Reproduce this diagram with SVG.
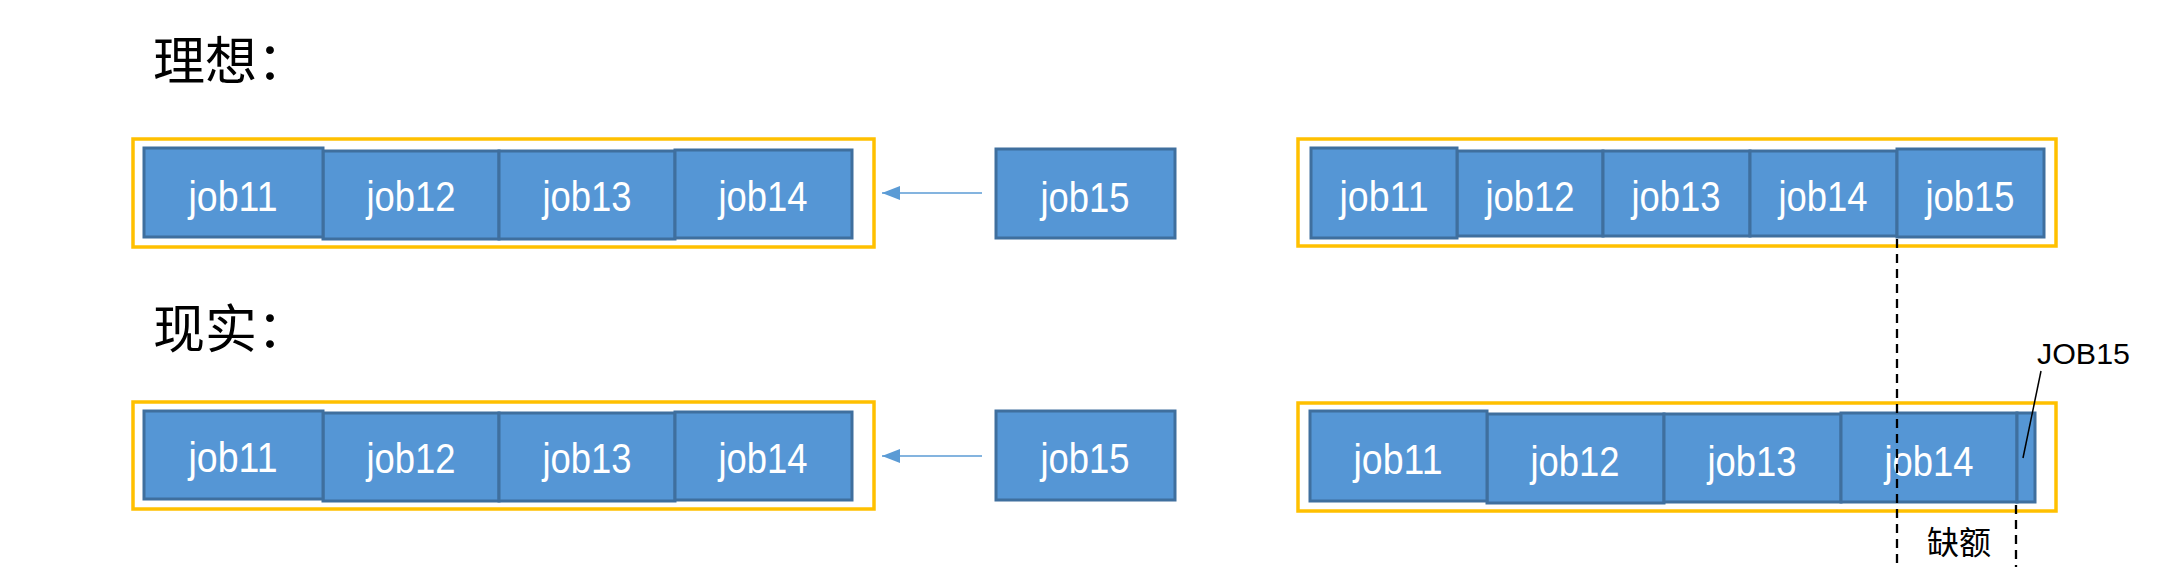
<svg xmlns="http://www.w3.org/2000/svg" width="2161" height="582" viewBox="0 0 2161 582">
<style>
.bg{fill:#ffffff}
.frame{fill:none;stroke:#FFC000;stroke-width:3.5}
.job{fill:#5596D5;stroke:#3F6F9E;stroke-width:3}
.lbl{font-family:"Liberation Sans",Arial,sans-serif;font-size:43px;fill:#ffffff;text-anchor:middle}
.title{font-family:"Noto Sans CJK SC",sans-serif;font-size:52px;fill:#000000}
.note{font-family:"Noto Sans CJK SC",sans-serif;font-size:32px;fill:#000000}
.note2{font-family:"Liberation Sans",Arial,sans-serif;font-size:30px;fill:#000000}
.arrow{stroke:#5B9BD5;stroke-width:1.6;fill:none}
.dash{stroke:#000000;stroke-width:2.3;stroke-dasharray:9 6;fill:none}
.leader{stroke:#000000;stroke-width:1.5;fill:none}
</style>
<defs>
<marker id="ah" viewBox="0 0 18 14" refX="18" refY="7" markerWidth="18" markerHeight="14" markerUnits="userSpaceOnUse" orient="auto">
<path d="M0,0 L18,7 L0,14 Z" fill="#5B9BD5"/>
</marker>
</defs>
<rect class="bg" x="0" y="0" width="2161" height="582"/>

<text id="title-ideal" class="title" x="153" y="80">理想：</text>
<text id="title-real" class="title" x="153" y="348">现实：</text>

<!-- top-left queue -->
<g id="queue-ideal-left">
<rect class="frame" x="133" y="139" width="741" height="108"/>
</g>
<g id="tl-job12"><rect class="job" x="323" y="151" width="176" height="88"/><text class="lbl" x="411" y="211" textLength="89" lengthAdjust="spacingAndGlyphs">job12</text></g>
<g id="tl-job13"><rect class="job" x="499" y="151" width="176" height="88"/><text class="lbl" x="587" y="211" textLength="89" lengthAdjust="spacingAndGlyphs">job13</text></g>
<g id="tl-job14"><rect class="job" x="675" y="150" width="177" height="88"/><text class="lbl" x="763" y="211" textLength="89" lengthAdjust="spacingAndGlyphs">job14</text></g>
<g id="tl-job11"><rect class="job" x="144" y="148" width="179" height="89"/><text class="lbl" x="233" y="211" textLength="89" lengthAdjust="spacingAndGlyphs">job11</text></g>
<g id="tm-job15"><rect class="job" x="996" y="149" width="179" height="89"/><text class="lbl" x="1085" y="212" textLength="89" lengthAdjust="spacingAndGlyphs">job15</text></g>

<!-- top-right queue -->
<g id="queue-ideal-right">
<rect class="frame" x="1298" y="139" width="758" height="107"/>
</g>
<g id="tr-job12"><rect class="job" x="1457" y="151" width="146" height="85"/><text class="lbl" x="1530" y="211" textLength="89" lengthAdjust="spacingAndGlyphs">job12</text></g>
<g id="tr-job13"><rect class="job" x="1603" y="151" width="147" height="85"/><text class="lbl" x="1676" y="211" textLength="89" lengthAdjust="spacingAndGlyphs">job13</text></g>
<g id="tr-job14"><rect class="job" x="1750" y="151" width="147" height="85"/><text class="lbl" x="1823" y="211" textLength="89" lengthAdjust="spacingAndGlyphs">job14</text></g>
<g id="tr-job15"><rect class="job" x="1897" y="149" width="147" height="88"/><text class="lbl" x="1970" y="211" textLength="89" lengthAdjust="spacingAndGlyphs">job15</text></g>
<g id="tr-job11"><rect class="job" x="1311" y="148" width="146" height="90"/><text class="lbl" x="1384" y="211" textLength="89" lengthAdjust="spacingAndGlyphs">job11</text></g>

<!-- bottom-left queue -->
<g id="queue-real-left">
<rect class="frame" x="133" y="402" width="741" height="107"/>
</g>
<g id="bl-job12"><rect class="job" x="323" y="413" width="176" height="88"/><text class="lbl" x="411" y="473" textLength="89" lengthAdjust="spacingAndGlyphs">job12</text></g>
<g id="bl-job13"><rect class="job" x="499" y="413" width="176" height="88"/><text class="lbl" x="587" y="473" textLength="89" lengthAdjust="spacingAndGlyphs">job13</text></g>
<g id="bl-job14"><rect class="job" x="675" y="412" width="177" height="88"/><text class="lbl" x="763" y="473" textLength="89" lengthAdjust="spacingAndGlyphs">job14</text></g>
<g id="bl-job11"><rect class="job" x="144" y="411" width="179" height="88"/><text class="lbl" x="233" y="472" textLength="89" lengthAdjust="spacingAndGlyphs">job11</text></g>
<g id="bm-job15"><rect class="job" x="996" y="411" width="179" height="89"/><text class="lbl" x="1085" y="473" textLength="89" lengthAdjust="spacingAndGlyphs">job15</text></g>

<!-- bottom-right queue -->
<g id="queue-real-right">
<rect class="frame" x="1298" y="403" width="758" height="108"/>
</g>
<g id="br-job12"><rect class="job" x="1487" y="414" width="177" height="89"/><text class="lbl" x="1575" y="476" textLength="89" lengthAdjust="spacingAndGlyphs">job12</text></g>
<g id="br-job13"><rect class="job" x="1664" y="414" width="177" height="88"/><text class="lbl" x="1752" y="476" textLength="89" lengthAdjust="spacingAndGlyphs">job13</text></g>
<g id="br-job14"><rect class="job" x="1841" y="413" width="176" height="89"/><text class="lbl" x="1929" y="476" textLength="89" lengthAdjust="spacingAndGlyphs">job14</text></g>
<g id="br-job15"><rect class="job" x="2017" y="413" width="18" height="89"/></g>
<g id="br-job11"><rect class="job" x="1310" y="411" width="177" height="90"/><text class="lbl" x="1398" y="474" textLength="89" lengthAdjust="spacingAndGlyphs">job11</text></g>

<!-- connectors -->
<g id="connectors">
<line class="arrow" x1="982" y1="193" x2="882" y2="193" marker-end="url(#ah)"/>
<line class="arrow" x1="982" y1="456" x2="882" y2="456" marker-end="url(#ah)"/>
<line class="dash" x1="1897" y1="239" x2="1897" y2="567"/>
<line class="dash" x1="2016" y1="505" x2="2016" y2="567"/>
<line class="leader" x1="2041" y1="371" x2="2023" y2="458"/>
</g>

<text id="label-job15" class="note2" x="2037" y="364" textLength="93" lengthAdjust="spacingAndGlyphs">JOB15</text>
<text id="label-gap" class="note" x="1927" y="554">缺额</text>
</svg>
